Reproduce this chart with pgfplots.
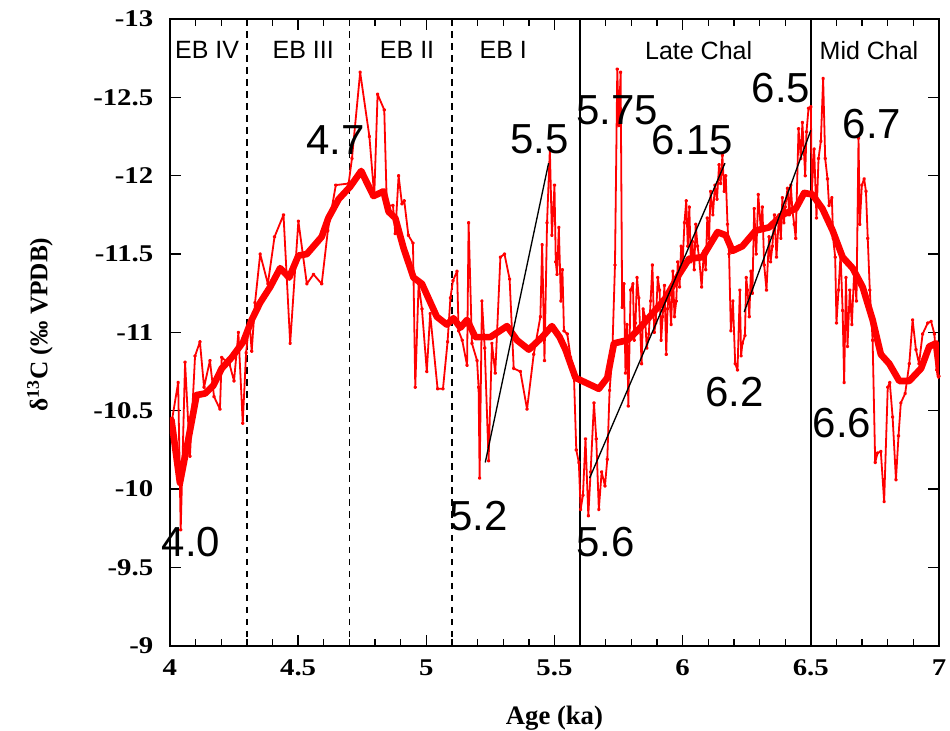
\documentclass[border=0pt]{standalone}
\usepackage{fontspec}
\setmainfont{Liberation Serif}
\newfontfamily\arial{Liberation Sans}
\usepackage{graphicx}
\usepackage{pgfplots}
\pgfplotsset{compat=1.18}
\pgfplotstableread{
x y
4.009 -10.45
4.032 -10.68
4.042 -9.74
4.059 -10.81
4.078 -10.21
4.098 -10.85
4.117 -10.94
4.133 -10.65
4.156 -10.82
4.172 -10.59
4.195 -10.51
4.202 -10.84
4.232 -10.80
4.250 -10.69
4.267 -11.00
4.284 -10.42
4.297 -10.87
4.310 -11.07
4.319 -10.88
4.332 -11.19
4.352 -11.50
4.382 -11.31
4.408 -11.61
4.443 -11.75
4.469 -10.93
4.501 -11.71
4.534 -11.31
4.560 -11.37
4.592 -11.31
4.616 -11.65
4.647 -11.94
4.697 -11.95
4.710 -12.11
4.742 -12.66
4.778 -12.25
4.797 -11.87
4.810 -12.52
4.836 -12.42
4.846 -11.81
4.870 -11.81
4.879 -11.63
4.892 -12.00
4.905 -11.82
4.914 -11.84
4.930 -11.62
4.948 -11.57
4.957 -10.65
4.970 -11.31
4.983 -11.15
5.002 -10.75
5.015 -11.12
5.044 -10.64
5.065 -10.64
5.083 -10.94
5.094 -11.22
5.104 -11.33
5.120 -11.39
5.126 -11.01
5.140 -10.95
5.159 -10.79
5.165 -11.70
5.178 -10.93
5.198 -10.82
5.204 -10.65
5.208 -10.07
5.217 -11.20
5.228 -10.90
5.243 -10.18
5.256 -10.93
5.269 -10.74
5.289 -11.48
5.305 -11.50
5.325 -11.34
5.341 -10.77
5.367 -10.75
5.393 -10.51
5.419 -10.86
5.445 -11.10
5.452 -11.56
5.461 -10.82
5.471 -11.70
5.482 -12.17
5.490 -11.62
5.500 -11.94
5.505 -11.45
5.510 -11.37
5.517 -11.67
5.525 -11.20
5.531 -11.40
5.537 -11.01
5.550 -10.99
5.563 -10.84
5.576 -10.72
5.585 -10.25
5.595 -10.17
5.602 -9.87
5.611 -9.96
5.621 -10.32
5.632 -9.83
5.641 -10.11
5.654 -10.55
5.663 -10.32
5.673 -9.87
5.684 -10.11
5.697 -10.02
5.706 -10.19
5.715 -10.63
5.725 -10.84
5.736 -11.43
5.745 -12.68
5.751 -12.32
5.758 -12.66
5.764 -11.16
5.771 -11.31
5.777 -10.74
5.783 -11.05
5.788 -10.53
5.797 -11.27
5.806 -11.31
5.811 -10.95
5.816 -11.06
5.822 -11.35
5.829 -11.22
5.840 -10.80
5.846 -11.15
5.853 -11.10
5.860 -10.90
5.868 -10.99
5.875 -11.20
5.882 -11.43
5.889 -11.00
5.895 -11.06
5.903 -11.35
5.910 -11.27
5.916 -10.95
5.922 -11.10
5.929 -11.30
5.936 -10.86
5.941 -11.15
5.947 -11.27
5.955 -11.05
5.962 -11.39
5.968 -11.10
5.975 -11.20
5.981 -11.45
5.988 -11.29
5.994 -11.55
6.000 -11.45
6.007 -11.70
6.014 -11.84
6.020 -11.55
6.026 -11.80
6.032 -11.45
6.038 -11.58
6.045 -11.40
6.051 -11.69
6.058 -11.55
6.064 -11.48
6.074 -11.29
6.083 -11.52
6.090 -11.40
6.096 -11.73
6.103 -11.60
6.109 -11.90
6.118 -11.75
6.126 -11.94
6.134 -11.85
6.142 -12.07
6.148 -11.95
6.155 -12.13
6.162 -11.90
6.168 -12.00
6.175 -11.69
6.181 -11.50
6.188 -11.01
6.196 -11.20
6.205 -10.80
6.214 -10.76
6.223 -11.27
6.228 -10.85
6.233 -10.93
6.243 -10.98
6.248 -11.35
6.253 -11.27
6.260 -11.10
6.266 -11.39
6.272 -11.25
6.279 -11.79
6.287 -11.50
6.295 -11.88
6.305 -11.65
6.311 -11.80
6.318 -11.43
6.327 -11.27
6.337 -11.61
6.343 -11.45
6.350 -11.55
6.358 -11.75
6.366 -11.48
6.376 -11.75
6.383 -11.60
6.389 -11.86
6.395 -11.70
6.400 -11.80
6.409 -11.92
6.416 -11.75
6.422 -11.94
6.428 -11.78
6.435 -11.69
6.441 -11.60
6.452 -12.30
6.461 -12.11
6.467 -12.34
6.478 -12.00
6.483 -12.28
6.491 -12.43
6.500 -12.44
6.504 -11.90
6.513 -12.17
6.522 -11.73
6.530 -12.11
6.539 -12.22
6.548 -12.62
6.556 -12.11
6.565 -11.98
6.571 -11.81
6.582 -11.86
6.587 -11.60
6.595 -11.48
6.600 -11.06
6.608 -11.27
6.616 -11.50
6.624 -11.14
6.630 -10.68
6.637 -11.35
6.643 -10.91
6.652 -11.27
6.660 -11.05
6.669 -11.39
6.678 -11.20
6.686 -12.24
6.691 -11.69
6.699 -11.94
6.708 -11.98
6.715 -11.90
6.722 -11.60
6.730 -11.27
6.741 -10.95
6.751 -10.17
6.760 -10.23
6.773 -10.24
6.786 -9.92
6.800 -10.65
6.808 -10.68
6.819 -10.46
6.832 -10.06
6.842 -10.34
6.851 -10.55
6.868 -10.61
6.884 -10.80
6.897 -11.08
6.910 -10.89
6.922 -10.80
6.936 -10.99
6.956 -11.06
6.969 -11.07
6.982 -10.99
6.991 -10.76
7.000 -10.72
}\rawdata
\pgfplotstableread{
x y
4.006 -10.44
4.039 -10.04
4.072 -10.32
4.104 -10.60
4.137 -10.61
4.169 -10.66
4.202 -10.77
4.241 -10.84
4.286 -10.94
4.319 -11.08
4.352 -11.19
4.391 -11.29
4.430 -11.41
4.465 -11.35
4.501 -11.49
4.534 -11.50
4.592 -11.61
4.618 -11.73
4.658 -11.85
4.703 -11.93
4.746 -12.03
4.794 -11.87
4.833 -11.90
4.853 -11.77
4.879 -11.73
4.911 -11.54
4.950 -11.35
4.983 -11.31
5.041 -11.10
5.080 -11.05
5.106 -11.09
5.133 -11.03
5.159 -11.08
5.191 -10.97
5.250 -10.97
5.315 -11.04
5.354 -10.95
5.400 -10.89
5.452 -10.97
5.490 -11.04
5.520 -10.97
5.543 -10.89
5.582 -10.71
5.621 -10.68
5.673 -10.64
5.706 -10.71
5.732 -10.93
5.784 -10.95
5.829 -11.02
5.882 -11.12
5.934 -11.22
5.986 -11.37
6.025 -11.47
6.077 -11.48
6.136 -11.64
6.168 -11.62
6.194 -11.52
6.233 -11.55
6.285 -11.65
6.337 -11.67
6.389 -11.75
6.441 -11.79
6.474 -11.89
6.506 -11.88
6.545 -11.79
6.585 -11.65
6.624 -11.48
6.663 -11.41
6.702 -11.29
6.741 -11.08
6.773 -10.86
6.806 -10.80
6.845 -10.69
6.884 -10.69
6.930 -10.77
6.962 -10.91
6.988 -10.93
7.004 -10.72
}\smoothdata
\begin{document}
\begin{tikzpicture}
\begin{axis}[name=ax,
  scale only axis, width=577pt, height=470.25pt,
  xmin=4, xmax=7, ymin=-13, ymax=-9, y dir=reverse,
  xtick={4,4.5,...,7}, minor x tick num=4,
  ytick={-13,-12.5,...,-9},
  tick align=inside,
  major tick length=8pt, minor tick length=5pt,
  every tick/.style={black, line width=1pt},
  axis line style={line width=1.3pt},
  /pgf/number format/assume math mode=true,
  every tick label/.append style={font=\fontsize{18}{18}\selectfont\bfseries},
  xticklabel={\scalebox{1.2}[1]{\pgfmathprintnumber{\tick}}},
  yticklabel={\scalebox{1.2}[1]{\pgfmathprintnumber{\tick}}},
  yticklabel style={xshift=-9pt},
  xticklabel style={yshift=-7pt},
  clip mode=individual,
]
\addplot[black, line width=1.1pt, dash pattern=on 5pt off 4pt] coordinates {(4.3,-13) (4.3,-9)};
\addplot[black, line width=1.1pt, dash pattern=on 5pt off 4pt] coordinates {(4.7,-13) (4.7,-9)};
\addplot[black, line width=1.1pt, dash pattern=on 5pt off 4pt] coordinates {(5.1,-13) (5.1,-9)};
\addplot[black, line width=1.3pt] coordinates {(5.6,-13) (5.6,-9)};
\addplot[black, line width=1.3pt] coordinates {(6.5,-13) (6.5,-9)};
\addplot[red, line width=1.35pt, line join=round, mark=*, mark size=0.7pt] table {\rawdata};
\addplot[red, line width=5pt, line join=round, line cap=round] table {\smoothdata};
\addplot[black, line width=1pt] coordinates {(5.23,-10.17) (5.477,-12.08)};
\addplot[black, line width=1pt] coordinates {(5.637,-10.07) (6.165,-12.08)};
\addplot[black, line width=1pt] coordinates {(6.24,-11.13) (6.5,-12.29)};
\begin{scope}[every node/.style={font=\arial\fontsize{18.75}{18.75}\selectfont, inner sep=0pt}]
\node at (axis cs:4.145,-12.80) {EB IV};
\node at (axis cs:4.52,-12.80) {EB III};
\node at (axis cs:4.925,-12.80) {EB II};
\node at (axis cs:5.30,-12.80) {EB I};
\node at (axis cs:6.0625,-12.80) {Late Chal};
\node at (axis cs:6.727,-12.80) {Mid Chal};
\end{scope}
\begin{scope}[every node/.style={font=\arial\fontsize{31.5}{31.5}\selectfont, inner sep=0pt}]
\node at (axis cs:4.082,-9.665) {4.0};
\node at (axis cs:4.645,-12.228) {4.7};
\node at (axis cs:5.441,-12.23) {5.5};
\node at (axis cs:5.745,-12.42) {5.75};
\node at (axis cs:6.038,-12.23) {6.15};
\node at (axis cs:6.383,-12.56) {6.5};
\node at (axis cs:6.738,-12.33) {6.7};
\node at (axis cs:5.204,-9.83) {5.2};
\node at (axis cs:5.699,-9.665) {5.6};
\node at (axis cs:6.203,-10.62) {6.2};
\node at (axis cs:6.621,-10.42) {6.6};
\end{scope}
\end{axis}
\node[font=\fontsize{20}{20}\selectfont\bfseries] at ([yshift=-54pt]ax.south) {Age (ka)};
\node[rotate=90, font=\fontsize{19}{19}\selectfont\bfseries] at ([xshift=-97.5pt, yshift=6pt]ax.west) {δ\textsuperscript{13}C (‰ VPDB)};
\pgfresetboundingbox
\path[use as bounding box] ([xshift=-127.5pt, yshift=-63.75pt]ax.south west) rectangle ([xshift=8.25pt, yshift=14.25pt]ax.north east);
\end{tikzpicture}
\end{document}
